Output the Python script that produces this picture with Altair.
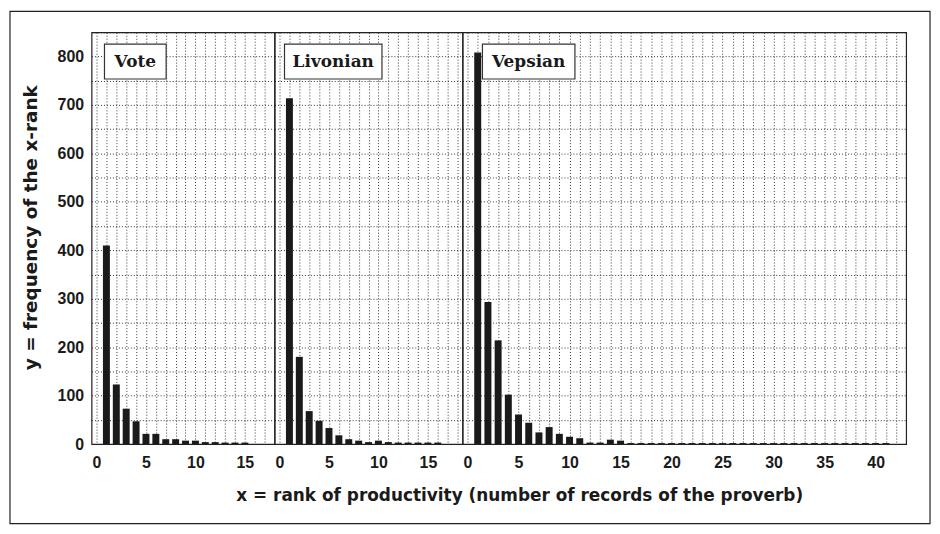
import altair as alt
import pandas as pd

# ---- data ----
vote_rank = list(range(1, 16))
vote_freq = [410, 123, 73, 47, 21, 21, 10, 10, 7, 7, 4, 4, 3, 3, 3]

livonian_rank = list(range(1, 17))
livonian_freq = [714, 180, 68, 48, 33, 18, 10, 7, 4, 7, 4, 3, 3, 3, 3, 3]

vepsian_rank = list(range(1, 42))
vepsian_freq = [808, 293, 214, 102, 61, 44, 24, 35, 21, 15, 12, 3, 3, 9, 7,
                2, 2, 2, 2, 2, 2, 2, 2, 2, 2, 2, 2, 2, 2, 2,
                2, 2, 2, 2, 2, 2, 2, 2, 2, 2, 2]

panel_names = ["Vote", "Livonian", "Vepsian"]
x_max = [17.5, 18, 42.5]
y_ticks = list(range(0, 851, 50))
y_title = "y = frequency of the x-rank"
x_title = "x = rank of productivity (number of records of the proverb)"

FONT = "Liberation Sans"
TFONT = "DejaVu Sans"
SERIF = "DejaVu Serif"
H = 414
UNIT = 10.5

one = pd.DataFrame({"a": [0]})


def panel(i, ranks, freqs, box, first=False, last=False):
    w = round(x_max[i] * UNIT)
    df = pd.DataFrame({"rank": ranks, "freq": freqs})
    xvals = list(range(0, int(x_max[i]) + 1))
    x_axis = alt.Axis(
        values=xvals,
        labelExpr="datum.value % 5 == 0 ? datum.label : ''",
        labelOverlap=False,
        labelFlush=False,
        labelFont=FONT, labelFontWeight="bold", labelFontSize=16, labelColor="#1a1a1a",
        labelPadding=11,
        ticks=False, domain=False,
        grid=True, gridColor="#222", gridDash=[1, 2], gridOpacity=0.9,
        title=x_title if last else None,
        titleFont=TFONT, titleFontWeight="bold", titleFontSize=17, titleColor="#1a1a1a",
        titleX=57 if last else 0, titleY=52, titleAlign="center", titleBaseline="middle",
    )
    if first:
        y_axis = alt.Axis(
            values=y_ticks,
            labelExpr="datum.value % 100 == 0 ? datum.label : ''",
            labelOverlap=False,
            labelFont=FONT, labelFontWeight="bold", labelFontSize=16, labelColor="#1a1a1a",
            labelPadding=8, ticks=False, domain=False,
            grid=True, gridColor="#222", gridDash=[1, 2], gridOpacity=0.9,
            title=y_title, titleFont=TFONT, titleFontWeight="bold", titleFontSize=18.5,
            titleColor="#1a1a1a", titlePadding=17, titleY=196,
        )
    else:
        y_axis = alt.Axis(
            values=y_ticks, labels=False, ticks=False, domain=False, title=None,
            grid=True, gridColor="#222", gridDash=[1, 2], gridOpacity=0.9,
        )
    bars = alt.Chart(df).mark_bar(size=7, color="#1a1a1a").encode(
        x=alt.X("rank:Q", scale=alt.Scale(domain=[0, x_max[i]], nice=False, zero=True), axis=x_axis),
        y=alt.Y("freq:Q", scale=alt.Scale(domain=[0, 850], nice=False), axis=y_axis),
    )
    x0, x1 = box
    rect = alt.Chart(one).mark_rect(fill="white", stroke="#333", strokeWidth=1.2).encode(
        x=alt.value(x0), x2=alt.value(x1), y=alt.value(12), y2=alt.value(47)
    )
    label = alt.Chart(one).mark_text(
        font=SERIF, fontWeight="bold", fontSize=17, color="#1a1a1a", align="center", baseline="middle"
    ).encode(x=alt.value((x0 + x1) / 2), y=alt.value(30), text=alt.value(panel_names[i]))
    layers = [bars, rect, label]
    if first:
        frame = alt.Chart(one).mark_rect(fill=None, stroke="#222", strokeWidth=1.2, clip=False).encode(
            x=alt.value(-82), x2=alt.value(843), y=alt.value(-21), y2=alt.value(494)
        )
        layers = [frame] + layers
    return alt.layer(*layers).properties(width=w, height=H)


p1 = panel(0, vote_rank, vote_freq, (13, 75), first=True)
p2 = panel(1, livonian_rank, livonian_freq, (10, 108))
p3 = panel(2, vepsian_rank, vepsian_freq, (20, 113), last=True)

chart = alt.hconcat(p1, p2, p3, spacing=0, bounds="flush").properties(
    padding=0, background="white"
).configure_view(stroke="#222", strokeWidth=1.2)

chart.save("out.html", embed_options={"renderer": "svg", "actions": False})
